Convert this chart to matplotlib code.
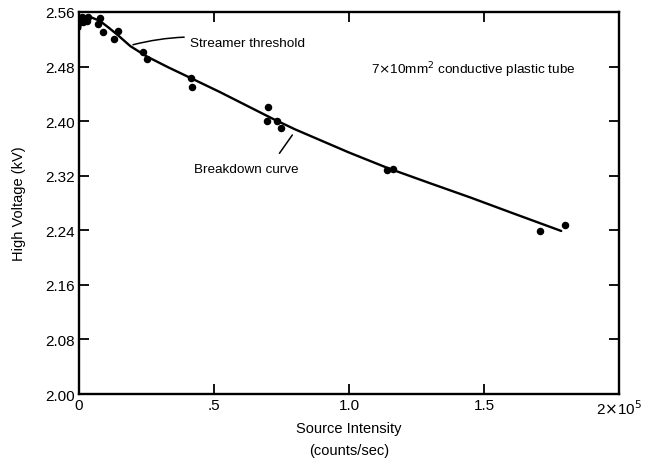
import matplotlib
matplotlib.use("Agg")
import matplotlib.pyplot as plt

plt.rcParams['font.family'] = ['Liberation Sans', 'DejaVu Sans']

# Measured points: source intensity (units of 1e5 counts/sec) vs breakdown voltage (kV)
pts_x = [0.010, 0.015, 0.020, 0.028, 0.035, 0.022, 0.077, 0.070, 0.088,
         0.144, 0.129, 0.236, 0.250, 0.416, 0.420, 0.700, 0.696, 0.733,
         0.748, 1.142, 1.164, 1.709, 1.801]
pts_y = [2.552, 2.546, 2.551, 2.547, 2.553, 2.549, 2.551, 2.542, 2.531,
         2.532, 2.520, 2.501, 2.491, 2.463, 2.450, 2.421, 2.400, 2.400,
         2.390, 2.328, 2.330, 2.239, 2.248]

# Hand-drawn breakdown curve through the data
curve_x = [0.004, 0.011, 0.040, 0.077, 0.110, 0.144, 0.190, 0.250, 0.330,
           0.420, 0.520, 0.620, 0.720, 0.800, 0.900, 1.000, 1.145, 1.300,
           1.450, 1.600, 1.786]
curve_y = [2.535, 2.553, 2.553, 2.547, 2.537, 2.526, 2.510, 2.495, 2.479,
           2.462, 2.443, 2.423, 2.403, 2.388, 2.371, 2.354, 2.331, 2.309,
           2.288, 2.266, 2.239]

x_ticks = [0, 0.5, 1.0, 1.5, 2.0]
x_tick_labels = ['0', '.5', '1.0', '1.5', r'2$\times$10$^5$']
y_ticks = [2.00, 2.08, 2.16, 2.24, 2.32, 2.40, 2.48, 2.56]
y_tick_labels = ['2.00', '2.08', '2.16', '2.24', '2.32', '2.40', '2.48', '2.56']

fig = plt.figure(figsize=(6.45, 4.64), dpi=100)
ax = fig.add_axes([0.1225, 0.1487, 0.8372, 0.8233])

ax.plot(curve_x, curve_y, color='black', lw=1.7, solid_capstyle='round',
        solid_joinstyle='round')
ax.plot(pts_x, pts_y, 'o', color='black', ms=4.4, mec='black')

ax.set_xlim(0, 2.0)
ax.set_ylim(2.00, 2.56)
ax.set_xticks(x_ticks)
ax.set_xticklabels(x_tick_labels, fontsize=11)
ax.set_yticks(y_ticks)
ax.set_yticklabels(y_tick_labels, fontsize=11)
ax.tick_params(direction='in', length=7, width=1.3, top=True, right=True,
               pad=3)
for sp in ax.spines.values():
    sp.set_linewidth(1.7)

ax.set_xlabel('Source Intensity\n(counts/sec)', fontsize=10.5, labelpad=3,
              linespacing=1.7)
ax.set_ylabel('High Voltage (kV)', fontsize=10.5, labelpad=14)

# Annotations
ax.annotate('Streamer threshold', xy=(0.20, 2.512), xytext=(0.41, 2.5146),
            fontsize=9.7, va='center', ha='left',
            arrowprops=dict(arrowstyle='-', lw=1.1, color='black',
                            connectionstyle='arc3,rad=0.12',
                            shrinkA=2, shrinkB=0))
ax.annotate('Breakdown curve', xy=(0.796, 2.383), xytext=(0.427, 2.330),
            fontsize=9.7, va='center', ha='left',
            arrowprops=dict(arrowstyle='-', lw=1.1, color='black',
                            connectionstyle='arc3,rad=0.0',
                            shrinkA=6, shrinkB=2, relpos=(0.75, 1.0)))
ax.text(1.08, 2.476, r'7$\times$10mm$^2$ conductive plastic tube',
        fontsize=9.7, va='center', ha='left')

fig.savefig('out.png', dpi=100)
